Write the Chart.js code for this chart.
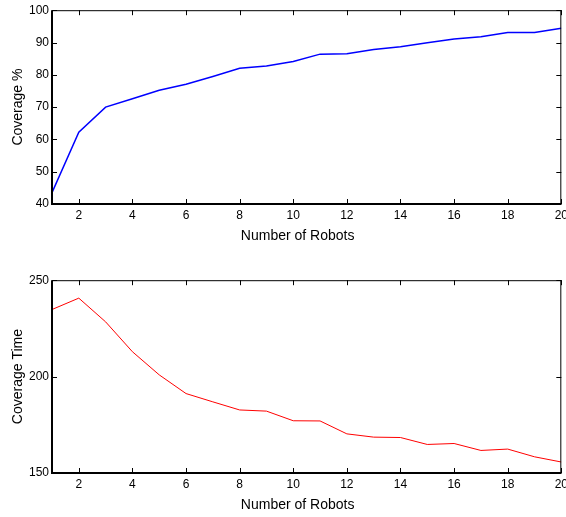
<!DOCTYPE html>
<html>
<head>
<meta charset="utf-8">
<script src="https://cdn.jsdelivr.net/npm/chart.js@4/dist/chart.umd.min.js"></script>
<style>
  html, body { margin: 0; padding: 0; background: #fff; overflow: hidden; width: 566px; height: 517px; }
  .box { position: absolute; left: 0; width: 572px; }
</style>
</head>
<body>
<div class="box" style="top:0;height:250px"><canvas id="c1"></canvas></div>
<div class="box" style="top:270px;height:249px"><canvas id="c2"></canvas></div>
<script>
const robots = [1,2,3,4,5,6,7,8,9,10,11,12,13,14,15,16,17,18,19,20];
const coverage = [43.5,62.2,70.0,72.6,75.2,77.1,79.5,82.0,82.7,84.1,86.4,86.5,87.8,88.7,89.9,91.1,91.8,93.1,93.1,94.4];
const coverageTime = [234.8,240.7,228.4,212.9,200.9,191.2,186.9,182.7,182.1,177.1,177.0,170.3,168.6,168.4,164.8,165.3,161.7,162.4,158.4,155.7];
const xTicks = [2,4,6,8,10,12,14,16,18,20];
const yTicksTop = [40,50,60,70,80,90,100];
const yTicksBottom = [150,200,250];
const xTitle = 'Number of Robots';
const yTitleTop = 'Coverage %';
const yTitleBottom = 'Coverage Time';

const FONT = '"Liberation Sans", Arial, Helvetica, sans-serif';

const framePlugin = {
  id: 'frame',
  afterDatasetsDraw(chart) {
    const ctx = chart.ctx;
    const a = chart.chartArea;
    const xs = chart.scales.x, ys = chart.scales.y;
    ctx.save();
    ctx.strokeStyle = '#000';
    ctx.lineWidth = 1;
    ctx.beginPath();
    ctx.moveTo(a.left, a.top + 0.5); ctx.lineTo(a.right, a.top + 0.5);
    ctx.moveTo(a.right - 0.5, a.top); ctx.lineTo(a.right - 0.5, a.bottom);
    ctx.stroke();
    ctx.beginPath();
    xs.ticks.forEach(t => {
      const px = Math.round(xs.getPixelForValue(t.value)) + 0.5;
      ctx.moveTo(px, a.bottom); ctx.lineTo(px, a.bottom - 5);
      ctx.moveTo(px, a.top); ctx.lineTo(px, a.top + 5);
    });
    ys.ticks.forEach(t => {
      const py = Math.round(ys.getPixelForValue(t.value)) + 0.5;
      ctx.moveTo(a.left, py); ctx.lineTo(a.left + 5, py);
      ctx.moveTo(a.right, py); ctx.lineTo(a.right - 5, py);
    });
    ctx.stroke();
    ctx.lineWidth = 2;
    ctx.beginPath();
    ctx.moveTo(a.left, a.top); ctx.lineTo(a.left, a.bottom); ctx.lineTo(a.right, a.bottom);
    ctx.stroke();
    ctx.fillStyle = '#000';
    ctx.font = '14px ' + FONT;
    ctx.textAlign = 'center';
    ctx.textBaseline = 'middle';
    ctx.fillText(xTitle, (a.left + a.right) / 2 - 9, a.bottom + 32);
    ctx.restore();
  }
};

function makeChart(id, values, color, width, yMin, yMax, yTicks, yTitle) {
  return new Chart(document.getElementById(id), {
    type: 'line',
    data: {
      datasets: [{
        data: robots.map((r, i) => ({x: r, y: values[i]})),
        borderColor: color,
        borderWidth: width,
        pointRadius: 0,
        tension: 0,
        fill: false
      }]
    },
    options: {
      responsive: true,
      maintainAspectRatio: false,
      animation: false,
      layout: { padding: { top: 10, right: 10, left: 0, bottom: 0 } },
      plugins: { legend: { display: false }, tooltip: { enabled: false } },
      scales: {
        x: {
          type: 'linear', min: 1, max: 20,
          afterBuildTicks: s => { s.ticks = xTicks.map(v => ({value: v})); },
          afterFit: s => { s.height = 46; },
          grid: { display: false, drawTicks: false },
          border: { display: false },
          ticks: { color: '#000', padding: 4, font: { size: 12, family: FONT }, maxRotation: 0 }
        },
        y: {
          type: 'linear', min: yMin, max: yMax,
          afterBuildTicks: s => { s.ticks = yTicks.map(v => ({value: v})); },
          afterFit: s => { s.width = 52; },
          grid: { display: false, drawTicks: false },
          border: { display: false },
          ticks: { color: '#000', padding: 3, font: { size: 12, family: FONT } },
          title: { display: true, text: yTitle, color: '#000', font: { size: 14, family: FONT }, padding: { top: 10, bottom: 0 } }
        }
      }
    },
    plugins: [framePlugin]
  });
}

makeChart('c1', coverage, '#0000ff', 1.5, 40, 100, yTicksTop, yTitleTop);
makeChart('c2', coverageTime, '#ff0000', 1, 150, 250, yTicksBottom, yTitleBottom);
</script>
</body>
</html>
